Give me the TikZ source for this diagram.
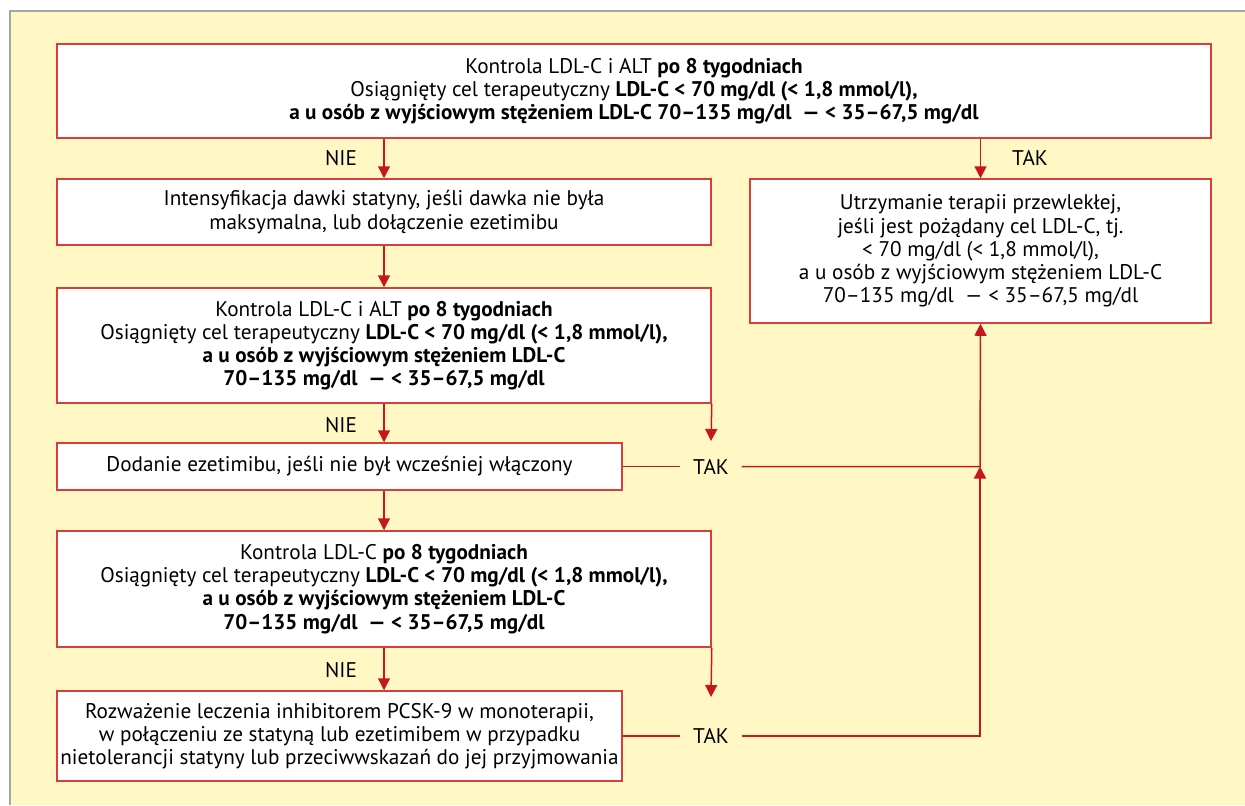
\documentclass[tikz,border=0pt]{standalone}
\usepackage{fontspec}
\setmainfont{PT Sans}
\usetikzlibrary{arrows.meta}
\usetikzlibrary{positioning}

\definecolor{boxred}{RGB}{218,62,60}
\definecolor{arrred}{RGB}{198,22,30}
\definecolor{panel}{RGB}{255,248,196}

\begin{document}
\begin{tikzpicture}[x = 0.5pt, y = -0.5pt, line width = 0.75pt,
    font = \fontsize{10.6}{11.6}\selectfont,
    box/.style = {rectangle, draw = boxred, fill = white, align = center, inner sep = 0pt},
    flow/.style = {arrred, -{Triangle[width = 6pt, length = 6pt]}},
    link/.style = {arrred},
    answer/.style = {inner xsep = 6pt, inner ysep = 2pt}]

    \useasboundingbox (0,0) rectangle (1245,805);

    % panel
    \fill[panel] (10,11) rectangle (1245,805);
    \draw[black!35] (10,805) -- (10,11) -- (1245,11);

    % boxes
    \node (kontrola1) at (634,91) [box, minimum width = 577pt, minimum height = 47pt]
        {Kontrola LDL-C i ALT \textbf{po 8 tygodniach}\\
         Osiągnięty cel terapeutyczny \textbf{LDL-C < 70 mg/dl (< 1,8 mmol/l),}\\
         \textbf{a u osób z wyjściowym stężeniem LDL-C 70–135 mg/dl \ — < 35–67,5 mg/dl}};

    \node (intens) at (384,212) [box, minimum width = 327pt, minimum height = 33pt]
        {Intensyfikacja dawki statyny, jeśli dawka nie była\\
         maksymalna, lub dołączenie ezetimibu};

    \node (utrzym) at (980.5,251) [box, minimum width = 230.5pt, minimum height = 72pt]
        {Utrzymanie terapii przewlekłej,\\
         jeśli jest pożądany cel LDL-C, tj.\\
         < 70 mg/dl (< 1,8 mmol/l),\\
         a u osób z wyjściowym stężeniem LDL-C\\
         70–135 mg/dl \ — < 35–67,5 mg/dl};

    \node (kontrola2) at (384,345.5) [box, minimum width = 327pt, minimum height = 57.5pt]
        {Kontrola LDL-C i ALT \textbf{po 8 tygodniach}\\
         Osiągnięty cel terapeutyczny \textbf{LDL-C < 70 mg/dl (< 1,8 mmol/l),}\\
         \textbf{a u osób z wyjściowym stężeniem LDL-C}\\
         \textbf{70–135 mg/dl \ — < 35–67,5 mg/dl}};

    \node (dodanie) at (339.5,466.5) [box, minimum width = 282.5pt, minimum height = 23.5pt]
        {Dodanie ezetimibu, jeśli nie był wcześniej włączony};

    \node (kontrola3) at (384,589) [box, minimum width = 327pt, minimum height = 58pt]
        {Kontrola LDL-C \textbf{po 8 tygodniach}\\
         Osiągnięty cel terapeutyczny \textbf{LDL-C < 70 mg/dl (< 1,8 mmol/l),}\\
         \textbf{a u osób z wyjściowym stężeniem LDL-C}\\
         \textbf{70–135 mg/dl \ — < 35–67,5 mg/dl}};

    \node (rozwaz) at (339.5,736) [box, minimum width = 282.5pt, minimum height = 45pt]
        {Rozważenie leczenia inhibitorem PCSK-9 w monoterapii,\\
         w połączeniu ze statyną lub ezetimibem w przypadku\\
         nietolerancji statyny lub przeciwwskazań do jej przyjmowania};

    % answers
    \node (nie1) at (341,158) {NIE};
    \node (tak0) at (1030,158) {TAK};
    \node (nie2) at (341,425) {NIE};
    \node (nie3) at (341,670) {NIE};
    \node (tak1) at (711,466.5) [answer] {TAK};
    \node (tak2) at (711,736) [answer] {TAK};

    \coordinate (tak1end) at (711,441);
    \coordinate (tak2end) at (711,697);
    \coordinate (join1) at (980,466.5);
    \coordinate (join2) at (980,736);

    % NIE path
    \draw[flow] (kontrola1.south -| intens.north) -- (intens.north);
    \draw[flow] (intens.south) -- (kontrola2.north);
    \draw[flow] (kontrola2.south) -- (kontrola2.south |- dodanie.north);
    \draw[flow] (dodanie.south -| kontrola3.north) -- (kontrola3.north);
    \draw[flow] (kontrola3.south) -- (kontrola3.south |- rozwaz.north);

    % TAK path
    \draw[flow] (kontrola1.south -| utrzym.north) -- (utrzym.north);
    \draw[flow] (kontrola2.south east) -- (tak1end);
    \draw[flow] (kontrola3.south east) -- (tak2end);
    \draw[link] (dodanie.east) -- (tak1.west);
    \draw[link] (rozwaz.east) -- (tak2.west);
    \draw[flow] (tak1.east) -- (join1) -- (utrzym.south);
    \draw[flow] (tak2.east) -- (join2) -- (join1);

\end{tikzpicture}
\end{document}
